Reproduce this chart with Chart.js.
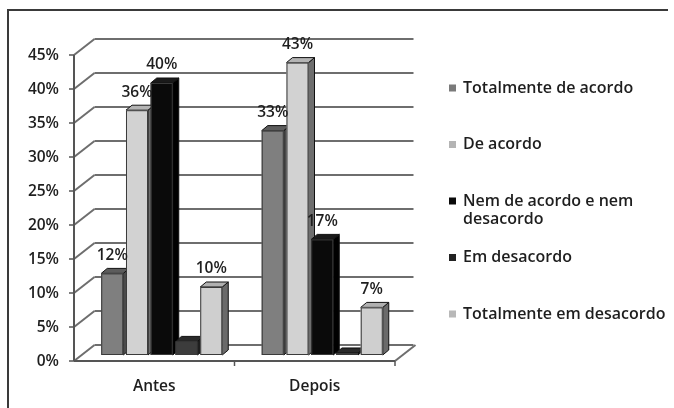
<!DOCTYPE html>
<html>
<head>
<meta charset="utf-8">
<script src="https://cdn.jsdelivr.net/npm/chart.js@4.4.1/dist/chart.umd.min.js"></script>
<style>
  html, body { margin: 0; padding: 0; background: #fff; }
  #wrap { width: 674px; height: 408px; }
</style>
</head>
<body>
<div id="wrap"><canvas id="grafico" width="674" height="408"></canvas></div>
<script>
// Dados do gráfico (percentuais)
const periodos = ['Antes', 'Depois'];
const respostas = [
  'Totalmente de acordo',
  'De acordo',
  'Nem de acordo e nem desacordo',
  'Em desacordo',
  'Totalmente em desacordo'
];
const totalmenteDeAcordo = [12, 33];
const deAcordo = [36, 43];
const nemDeAcordo = [40, 17];
const emDesacordo = [2, 0.3];
const totalmenteEmDesacordo = [10, 7];
const ticksY = [0, 5, 10, 15, 20, 25, 30, 35, 40, 45];

// cores: frente, lateral, topo, legenda
const coresFrente = ['#7f7f7f', '#d2d2d2', '#0a0a0a', '#3c3c3c', '#cfcfcf'];
const coresLado = ['#4a4a4a', '#6e6e6e', '#000000', '#1e1e1e', '#6a6a6a'];
const coresTopo = ['#5c5c5c', '#b4b4b4', '#1a1a1a', '#2a2a2a', '#b0b0b0'];
const coresLegenda = ['#7a7a7a', '#b4b4b4', '#0a0a0a', '#222222', '#b8b8b8'];

const FONTE = '600 15.5px "Open Sans", sans-serif';
const FONTE_LEGENDA = '600 16px "Open Sans", sans-serif';
// deslocamentos da perspectiva em relação ao plano das barras
const FRENTE = { dx: -7.5, dy: 6 };
const FUNDO = { dx: 13, dy: -10 };
const PROF = { dx: 6, dy: 5 };

function linha(ctx, x1, y1, x2, y2) {
  ctx.beginPath();
  ctx.moveTo(x1, y1);
  ctx.lineTo(x2, y2);
  ctx.stroke();
}

const efeito3D = {
  id: 'efeito3D',
  beforeDraw(chart) {
    const ctx = chart.ctx;
    ctx.save();
    // moldura
    ctx.strokeStyle = '#3a3a3a';
    ctx.lineWidth = 2;
    ctx.beginPath();
    ctx.moveTo(8, 408);
    ctx.lineTo(8, 10);
    ctx.lineTo(668, 10);
    ctx.stroke();
    ctx.restore();
  },
  beforeDatasetsDraw(chart) {
    const ctx = chart.ctx;
    const y = chart.scales.y;
    const x = chart.scales.x;
    const a = chart.chartArea;
    ctx.save();
    ctx.strokeStyle = '#6e6e6e';
    ctx.lineWidth = 2;
    // linhas de grade na parede do fundo + diagonais até o eixo
    ticksY.forEach(v => {
      const py = y.getPixelForValue(v);
      linha(ctx, a.left + FUNDO.dx, py + FUNDO.dy, a.right + FUNDO.dx - 2, py + FUNDO.dy);
      linha(ctx, a.left + FRENTE.dx, py + FRENTE.dy, a.left + FUNDO.dx, py + FUNDO.dy);
    });
    // piso
    const p0 = y.getPixelForValue(0);
    linha(ctx, a.right + FRENTE.dx, p0 + FRENTE.dy, a.right + FUNDO.dx, p0 + FUNDO.dy);
    ctx.strokeStyle = '#555';
    linha(ctx, a.left + FRENTE.dx, p0 + FRENTE.dy, a.right + FRENTE.dx, p0 + FRENTE.dy);
    // eixo vertical frontal e marcas
    linha(ctx, a.left + FRENTE.dx, p0 + FRENTE.dy, a.left + FRENTE.dx, y.getPixelForValue(45) + FRENTE.dy);
    ctx.lineWidth = 1.5;
    ticksY.forEach(v => {
      const py = y.getPixelForValue(v) + FRENTE.dy;
      linha(ctx, a.left + FRENTE.dx - 5, py, a.left + FRENTE.dx, py);
    });
    // marcas do eixo x entre categorias
    const larg = (a.right - a.left) / periodos.length;
    for (let i = 1; i <= periodos.length; i++) {
      const px = a.left + larg * i + FRENTE.dx;
      linha(ctx, px, p0 + FRENTE.dy, px, p0 + FRENTE.dy + 5);
    }
    // rótulos do eixo y
    ctx.fillStyle = '#1e1e1e';
    ctx.font = FONTE;
    ctx.textAlign = 'right';
    ctx.textBaseline = 'middle';
    ticksY.forEach(v => {
      ctx.fillText(v + '%', a.left + FRENTE.dx - 15, y.getPixelForValue(v) + FRENTE.dy + 1);
    });
    // rótulos do eixo x
    ctx.textAlign = 'center';
    periodos.forEach((p, i) => {
      ctx.fillText(p, x.getPixelForValue(i) + FRENTE.dx, p0 + FRENTE.dy + 26);
    });
    ctx.restore();
  },
  afterDatasetsDraw(chart) {
    const ctx = chart.ctx;
    const barras = [];
    chart.data.datasets.forEach((ds, i) => {
      chart.getDatasetMeta(i).data.forEach((el, j) => {
        barras.push({ el, i, valor: ds.data[j] });
      });
    });
    barras.sort((b1, b2) => b1.el.x - b2.el.x);
    ctx.save();
    ctx.lineWidth = 1;
    ctx.strokeStyle = '#111';
    barras.forEach(({ el, i }) => {
      const l = el.x - el.width / 2;
      const r = el.x + el.width / 2;
      const t = el.y;
      const b = el.base;
      // lateral
      ctx.fillStyle = coresLado[i];
      ctx.beginPath();
      ctx.moveTo(r, t);
      ctx.lineTo(r + PROF.dx, t - PROF.dy);
      ctx.lineTo(r + PROF.dx, b - PROF.dy);
      ctx.lineTo(r, b);
      ctx.closePath();
      ctx.fill();
      ctx.stroke();
      // topo
      ctx.fillStyle = coresTopo[i];
      ctx.beginPath();
      ctx.moveTo(l, t);
      ctx.lineTo(l + PROF.dx, t - PROF.dy);
      ctx.lineTo(r + PROF.dx, t - PROF.dy);
      ctx.lineTo(r, t);
      ctx.closePath();
      ctx.fill();
      ctx.stroke();
      // frente
      ctx.fillStyle = coresFrente[i];
      ctx.fillRect(l, t, el.width, b - t);
      ctx.strokeStyle = '#3a3a3a';
      ctx.strokeRect(l + 0.5, t + 0.5, el.width - 1, b - t - 1);
      ctx.strokeStyle = '#111';
    });
    // rótulos de dados
    ctx.fillStyle = '#1e1e1e';
    ctx.font = FONTE;
    ctx.textAlign = 'center';
    ctx.textBaseline = 'middle';
    barras.forEach(({ el, valor }) => {
      if (valor >= 5) ctx.fillText(Math.round(valor) + '%', el.x, el.y - 18);
    });
    ctx.restore();
  },
  afterDraw(chart) {
    // legenda à direita
    const ctx = chart.ctx;
    ctx.save();
    ctx.font = FONTE_LEGENDA;
    ctx.textBaseline = 'middle';
    ctx.textAlign = 'left';
    respostas.forEach((txt, i) => {
      const cy = 88 + i * 56.5;
      ctx.fillStyle = coresLegenda[i];
      ctx.fillRect(449, cy - 3.5, 7, 7);
      ctx.fillStyle = '#1e1e1e';
      // quebra de linha simples
      const palavras = txt.split(' ');
      let atual = '';
      let linhaY = cy;
      palavras.forEach(p => {
        const teste = atual ? atual + ' ' + p : p;
        if (ctx.measureText(teste).width > 205 && atual) {
          ctx.fillText(atual, 463, linhaY);
          atual = p;
          linhaY += 18;
        } else {
          atual = teste;
        }
      });
      ctx.fillText(atual, 463, linhaY);
    });
    ctx.restore();
  }
};

const series = [totalmenteDeAcordo, deAcordo, nemDeAcordo, emDesacordo, totalmenteEmDesacordo];

new Chart(document.getElementById('grafico').getContext('2d'), {
  type: 'bar',
  data: {
    labels: periodos,
    datasets: respostas.map((r, i) => ({
      label: r,
      data: series[i],
      backgroundColor: coresFrente[i],
      borderWidth: 0,
      categoryPercentage: 0.771,
      barPercentage: 0.89
    }))
  },
  options: {
    responsive: false,
    animation: false,
    layout: { padding: { left: 81.5, right: 271.5, top: 49, bottom: 53 } },
    scales: {
      x: { display: false },
      y: { display: false, min: 0, max: 45 }
    },
    plugins: {
      legend: { display: false },
      tooltip: { enabled: false }
    }
  },
  plugins: [efeito3D]
});
</script>
</body>
</html>
